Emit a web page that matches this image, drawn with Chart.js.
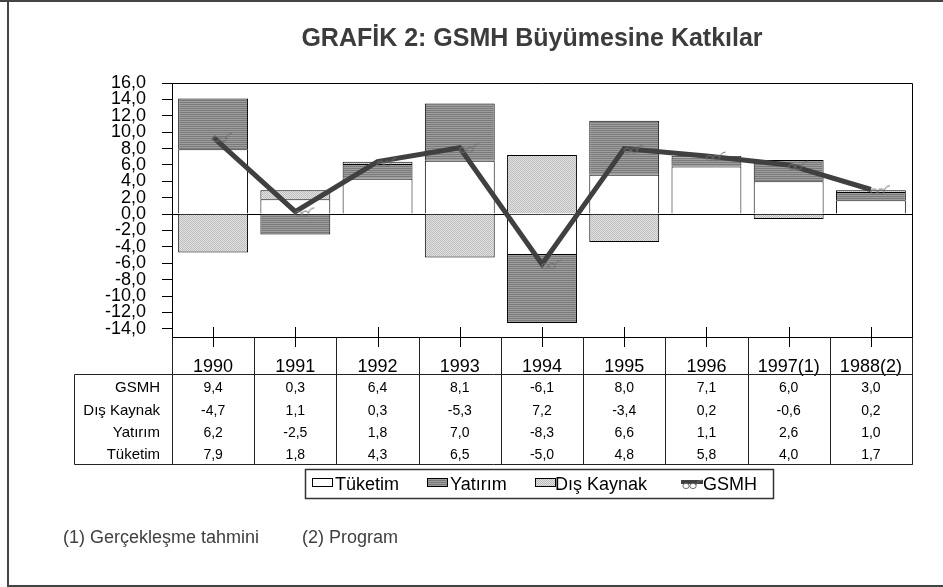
<!DOCTYPE html>
<html><head><meta charset="utf-8">
<script src="https://cdn.jsdelivr.net/npm/chart.js@4/dist/chart.umd.min.js"></script>
<style>html,body{margin:0;padding:0;background:#fff;overflow:hidden}canvas{display:block}</style>
</head><body>
<canvas id="c" width="943" height="587"></canvas>
<script>
const categories = ['1990','1991','1992','1993','1994','1995','1996','1997(1)','1988(2)'];
const tuketim   = [7.9, 1.8, 4.3, 6.5, -5.0, 4.8, 5.8, 4.0, 1.7];
const yatirim   = [6.2, -2.5, 1.8, 7.0, -8.3, 6.6, 1.1, 2.6, 1.0];
const disKaynak = [-4.7, 1.1, 0.3, -5.3, 7.2, -3.4, 0.2, -0.6, 0.2];
const gsmh      = [9.4, 0.3, 6.4, 8.1, -6.1, 8.0, 7.1, 6.0, 3.0];
const yTickValues = [-14,-12,-10,-8,-6,-4,-2,0,2,4,6,8,10,12,14,16];
const seriesNames = ['Tüketim','Yatırım','Dış Kaynak','GSMH'];
const tableRowOrder = ['GSMH','Dış Kaynak','Yatırım','Tüketim'];
const titleText = 'GRAFİK 2: GSMH Büyümesine Katkılar';
const footnotes = ['(1) Gerçekleşme tahmini', '(2) Program'];

const FONT = '"Liberation Sans", Arial, sans-serif';
const fmt = v => Number(v).toFixed(1).replace('.', ',');

function makePattern(kind) {
  const t = document.createElement('canvas');
  const c = t.getContext('2d');
  if (kind === 'stripes') {
    t.width = 4; t.height = 2;
    c.fillStyle = '#7a7a7a'; c.fillRect(0,0,4,1);
    c.fillStyle = '#9e9e9e'; c.fillRect(0,1,4,1);
  } else {
    t.width = 2; t.height = 2;
    c.fillStyle = '#e2e2e2'; c.fillRect(0,0,2,2);
    c.fillStyle = '#bdbdbd'; c.fillRect(0,0,1,1); c.fillRect(1,1,1,1);
  }
  return c.createPattern(t, 'repeat');
}
const ctxMain = document.getElementById('c').getContext('2d');
const patYatirim = makePattern('stripes');
const patDis = makePattern('dots');

function drawGlasses(c, x, y) {
  c.save();
  c.strokeStyle = '#707070';
  c.lineWidth = 1;
  c.beginPath(); c.ellipse(x, y, 3.2, 2.6, 0, 0, Math.PI*2); c.stroke();
  c.beginPath(); c.ellipse(x+7, y, 3.2, 2.6, 0, 0, Math.PI*2); c.stroke();
  c.beginPath(); c.moveTo(x+10, y-1); c.quadraticCurveTo(x+12, y-6, x+16, y-6); c.stroke();
  c.restore();
}
const glasses = document.createElement('canvas');
glasses.width = 44; glasses.height = 24;
drawGlasses(glasses.getContext('2d'), 25, 14);

const decor = {
  id: 'decor',
  beforeDraw(chart) {
    const c = chart.ctx;
    c.save();
    c.fillStyle = '#fff';
    c.fillRect(0, 0, chart.width, chart.height);
    c.strokeStyle = '#444';
    c.lineWidth = 2;
    c.beginPath();
    c.moveTo(0, 1); c.lineTo(943, 1);
    c.moveTo(8, 0); c.lineTo(8, 586);
    c.lineTo(943, 586);
    c.stroke();
    c.restore();
  },
  afterDraw(chart) {
    const c = chart.ctx;
    const a = chart.chartArea;
    const xs = chart.scales.x;
    const n = categories.length;
    const colW = (a.right - a.left) / n;
    c.save();
    // title
    c.fillStyle = '#3c3c3c';
    c.font = 'bold 25px ' + FONT;
    c.textAlign = 'center';
    c.textBaseline = 'middle';
    c.fillText(titleText, 532, 39);

    // plot border top/right
    c.strokeStyle = '#000';
    c.lineWidth = 1;
    c.beginPath();
    c.moveTo(a.left, a.top + 0.5); c.lineTo(a.right + 0.5, a.top + 0.5);
    c.lineTo(a.right + 0.5, 464.5);
    c.stroke();

    // x tick marks at category centres
    c.beginPath();
    for (let i = 0; i < n; i++) {
      const px = Math.round(xs.getPixelForValue(i)) + 0.5;
      c.moveTo(px, a.bottom - 10); c.lineTo(px, a.bottom + 10);
    }
    c.stroke();

    // data table
    c.strokeStyle = '#222';
    c.beginPath();
    for (let i = 0; i <= n; i++) {
      const px = Math.round(a.left + i * colW) + 0.5;
      c.moveTo(px, a.bottom); c.lineTo(px, 464.5);
    }
    c.moveTo(74.5, 374.5); c.lineTo(a.right + 0.5, 374.5);
    c.moveTo(74.5, 374.5); c.lineTo(74.5, 464.5);
    c.moveTo(74.5, 464.5); c.lineTo(a.right + 0.5, 464.5);
    c.stroke();

    const rowData = {
      'GSMH': chart.data.datasets[3].data,
      'Dış Kaynak': chart.data.datasets[2].data,
      'Yatırım': chart.data.datasets[1].data,
      'Tüketim': chart.data.datasets[0].data
    };
    const rowY = [388, 411, 433, 455];
    c.fillStyle = '#000';
    c.textBaseline = 'middle';
    tableRowOrder.forEach((name, r) => {
      c.font = '15px ' + FONT;
      c.textAlign = 'right';
      c.fillText(name, 160, rowY[r]);
      c.font = '14px ' + FONT;
      c.textAlign = 'center';
      rowData[name].forEach((v, i) => {
        c.fillText(fmt(v), xs.getPixelForValue(i), rowY[r]);
      });
    });

    // legend
    c.strokeStyle = '#333';
    c.lineWidth = 1.5;
    c.strokeRect(305.5, 469.5, 468, 29);
    c.lineWidth = 1;
    c.font = '18px ' + FONT;
    c.textAlign = 'left';
    c.fillStyle = '#000';
    const ly = 485;
    const boxes = [
      {x: 312, fill: '#fff', tx: 335},
      {x: 427, fill: patYatirim, tx: 450},
      {x: 535, fill: patDis, tx: 555}
    ];
    boxes.forEach((b, i) => {
      c.fillStyle = b.fill;
      c.fillRect(b.x + 0.5, 478.5, 20, 8);
      c.strokeStyle = '#000';
      c.strokeRect(b.x + 0.5, 478.5, 20, 8);
      c.fillStyle = '#000';
      c.fillText(seriesNames[i], b.tx, ly);
    });
    c.strokeStyle = '#404040';
    c.lineWidth = 4;
    c.beginPath(); c.moveTo(681, 482); c.lineTo(703, 482); c.stroke();
    drawGlasses(c, 686, 486);
    c.fillStyle = '#000';
    c.fillText(seriesNames[3], 703, ly);

    // footnotes
    c.fillStyle = '#404040';
    c.font = '18px ' + FONT;
    c.textAlign = 'left';
    c.fillText(footnotes[0], 63, 538);
    c.fillText(footnotes[1], 302, 538);
    c.restore();
  }
};

new Chart(ctxMain, {
  type: 'bar',
  data: {
    labels: categories,
    datasets: [
      {label: seriesNames[0], data: tuketim, backgroundColor: '#ffffff', borderColor: '#000', borderWidth: 1, order: 1},
      {label: seriesNames[1], data: yatirim, backgroundColor: patYatirim, borderColor: '#000', borderWidth: 1, order: 1},
      {label: seriesNames[2], data: disKaynak, backgroundColor: patDis, borderColor: '#000', borderWidth: 1, order: 1},
      {type: 'line', label: seriesNames[3], data: gsmh, stack: 'gsmh', order: 0,
       borderColor: '#404040', borderWidth: 5, fill: false, tension: 0,
       pointStyle: glasses, pointRadius: 10, borderJoinStyle: 'miter'}
    ]
  },
  options: {
    responsive: false,
    animation: false,
    devicePixelRatio: 1,
    layout: {padding: {left: 0, right: 31, top: 83, bottom: 0}},
    datasets: {bar: {categoryPercentage: 0.85, barPercentage: 1}},
    plugins: {legend: {display: false}, title: {display: false}, tooltip: {enabled: false}},
    scales: {
      x: {
        stacked: true,
        grid: {display: false, drawTicks: false},
        border: {display: true, color: '#000', width: 1},
        ticks: {font: {family: FONT, size: 18}, color: '#000', padding: 19, maxRotation: 0, autoSkip: false},
        afterFit: s => { s.height = 250; }
      },
      y: {
        stacked: true,
        min: -15, max: 16,
        afterBuildTicks: s => { s.ticks = yTickValues.map(v => ({value: v})); },
        ticks: {callback: v => fmt(v), font: {family: FONT, size: 18, lineHeight: 0.9}, color: '#000', padding: 16, autoSkip: false},
        grid: {color: c => (c.tick && c.tick.value === 0) ? '#000' : 'rgba(0,0,0,0)', tickColor: '#000', tickLength: 10, lineWidth: 1},
        border: {display: true, color: '#000', width: 1},
        afterFit: s => { s.width = 172; }
      }
    }
  },
  plugins: [decor]
});
</script>
</body></html>
